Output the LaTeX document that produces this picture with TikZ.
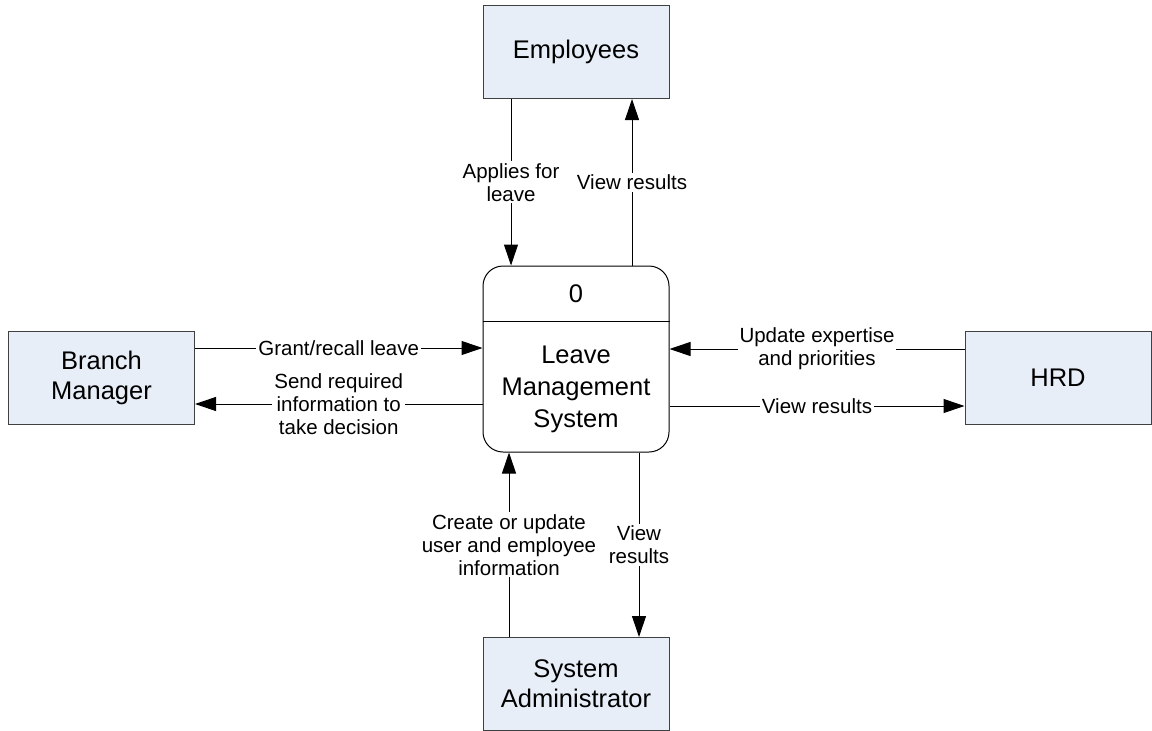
\documentclass[tikz,border=0pt]{standalone}
\usepackage{fontspec}
\setmainfont{Liberation Sans}
\usetikzlibrary{arrows.meta}
\definecolor{entityfill}{HTML}{E8EEF8}
\definecolor{entityline}{HTML}{404040}

\begin{document}
\begin{tikzpicture}[x=1pt,y=-1pt,
    entity/.style={draw=entityline, fill=entityfill, line width=1pt,
      minimum width=186pt, minimum height=93pt, inner sep=0pt,
      align=center, font=\fontsize{25.5}{30}\selectfont},
    process/.style={draw=black, line width=1pt, rounded corners=20pt,
      minimum width=186pt, minimum height=186pt},
    flow/.style={line width=1pt, -{Triangle[length=21pt,width=14pt]}},
    flowlabel/.style={fill=white, inner sep=2pt, align=center,
      font=\fontsize{20.5}{23}\selectfont}]
  \useasboundingbox (0,0) rectangle (1152,731);

  % external entities
  \node[entity] (emp) at (576,52) {Employees};
  \node[entity] (bm) at (101.5,377.5) {Branch\\Manager};
  \node[entity] (hrd) at (1058,377.5) {HRD};
  \node[entity] (sa) at (576,684) {System\\Administrator};

  % the process
  \node[process] (lms) at (576,359) {};
  \draw[line width=1pt] ([yshift=-56pt]lms.north west) -- ([yshift=-56pt]lms.north east);
  \node[font=\fontsize{25.5}{32}\selectfont] (lmsid) at ([yshift=-28pt]lms.north) {0};
  \node[align=center, font=\fontsize{25.5}{32}\selectfont] (lmsname)
    at ([yshift=-30pt]lms.center) {Leave\\Management\\System};

  % flows
  \draw[flow] ([xshift=-65pt]emp.south) -- ([xshift=-65pt]emp.south |- lms.north)
    node[flowlabel, midway] {Applies for\\leave};
  \draw[flow] ([xshift=56pt]emp.south |- lms.north) -- ([xshift=56pt]emp.south)
    node[flowlabel, midway] {View results};

  \draw[flow] ([yshift=29.5pt]bm.east) -- ([yshift=29.5pt]bm.east -| lms.west)
    node[flowlabel, midway] {Grant/recall leave};
  \draw[flow] ([yshift=-26.5pt]bm.east -| lms.west) -- ([yshift=-26.5pt]bm.east)
    node[flowlabel, midway] {Send required\\information to\\take decision};

  \draw[flow] ([yshift=28.5pt]hrd.west) -- ([yshift=28.5pt]hrd.west -| lms.east)
    node[flowlabel, midway] {Update expertise\\and priorities};
  \draw[flow] ([yshift=-28.5pt]hrd.west -| lms.east) -- ([yshift=-28.5pt]hrd.west)
    node[flowlabel, midway] {View results};

  \draw[flow] ([xshift=-67pt]sa.north) -- ([xshift=-67pt]sa.north |- lms.south)
    node[flowlabel, midway] {Create or update\\user and employee\\information};
  \draw[flow] ([xshift=63pt]sa.north |- lms.south) -- ([xshift=63pt]sa.north)
    node[flowlabel, midway] {View\\results};
\end{tikzpicture}
\end{document}
